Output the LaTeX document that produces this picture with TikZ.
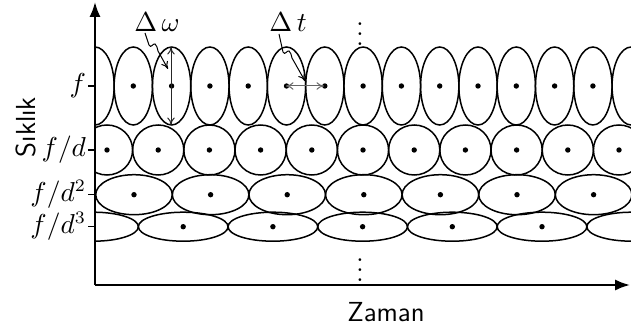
\documentclass[tikz,border=0pt]{standalone}
\usetikzlibrary{arrows.meta}
\begin{document}
\begin{tikzpicture}[x=0.4pt,y=-0.4pt,
  cell/.style={line width=0.6pt},
  dotmark/.style={fill=black},
  axisline/.style={line width=0.9pt},
  tick/.style={line width=0.6pt},
  lab/.style={font=\fontsize{10.5}{12.6}\selectfont, inner sep=0pt},
  axlab/.style={font=\fontsize{11}{13}\selectfont\sffamily, inner sep=0pt},
  meas/.style={line width=0.4pt, {To[length=3pt,width=3pt]}-{To[length=3pt,width=3pt]}},
  pointer/.style={line width=0.4pt, -{To[length=3pt,width=3pt]}}]
\useasboundingbox (0,0) rectangle (631,332);
% cells
\begin{scope}
  \clip (95,0) rectangle (631,300);
  \foreach \k in {0,...,14} {
    \draw[cell] ({95+38.3*\k},86) ellipse [x radius=19.15, y radius=39];
  }
  \foreach \k in {1,...,13} {
    \fill[dotmark] ({95+38.3*\k},86) circle [radius=2.7];
  }
  \foreach \k in {0,...,10} {
    \draw[cell] ({107+51.2*\k},150) ellipse [x radius=25.6, y radius=25];
    \fill[dotmark] ({107+51.2*\k},150) circle [radius=2.7];
  }
  \foreach \k in {0,...,6} {
    \draw[cell] ({134+76.6*\k},194.7) ellipse [x radius=38.3, y radius=20];
    \fill[dotmark] ({134+76.6*\k},194.7) circle [radius=2.7];
  }
  \foreach \k in {0,...,6} {
    \draw[cell] ({93.5+89.7*\k},226.7) ellipse [x radius=44.85, y radius=14.5];
  }
  \foreach \k in {1,...,5} {
    \fill[dotmark] ({93.5+89.7*\k},226.7) circle [radius=2.7];
  }
\end{scope}
% axes
\coordinate (O) at (95,285);
\coordinate (ytop) at (95,2);
\coordinate (xend) at (630,285);
\draw[axisline, -{Latex[length=6pt,width=4.5pt]}] (O) -- (ytop);
\draw[axisline, -{Latex[length=6pt,width=4.5pt]}] (O) -- (xend);
% ticks and labels
\foreach \yy/\nm/\tx in {86/t1/{$f$}, 150/t2/{$f/d$}, 194.7/t3/{$f/d^2$}, 226.7/t4/{$f/d^3$}} {
  \coordinate (\nm) at (95,\yy);
  \draw[tick] (\nm) -- ++(-7,0) node[lab, anchor=east, xshift=-0.5pt] (\nm l) {\tx};
}
% dots
\node[lab] (vtop) at (360,27) {$\vdots$};
\node[lab] (vbot) at (360,263) {$\vdots$};
% axis labels
\node[axlab, rotate=90] (ylab) at (26,127) {Sıklık};
\node[axlab] (xlab) at (386,312) {Zaman};
% measures
\coordinate (w1) at (171,47);
\coordinate (w2) at (171,125);
\draw[meas, black!85] (w1) -- (w2);
\coordinate (t1a) at (286,86);
\coordinate (t1b) at (324,86);
\draw[meas, black!60] (t1a) -- (t1b);
\node[lab] (dw) at (157,22) {$\Delta\,\omega$};
\node[lab] (dt) at (288,22) {$\Delta\,t$};
\coordinate (pw) at (168,69);
\coordinate (pt) at (305,81);
\draw[pointer] (145,33) -- (149,45) .. controls (151,49) and (153,43) .. (155,44) .. controls (157,45) and (157,48) .. (158,51) -- (pw);
\draw[pointer] (279,34) -- (283,52) .. controls (285,56) and (287,50) .. (289,51) .. controls (291,52) and (291,55) .. (292,58) -- (pt);
\end{tikzpicture}
\end{document}
